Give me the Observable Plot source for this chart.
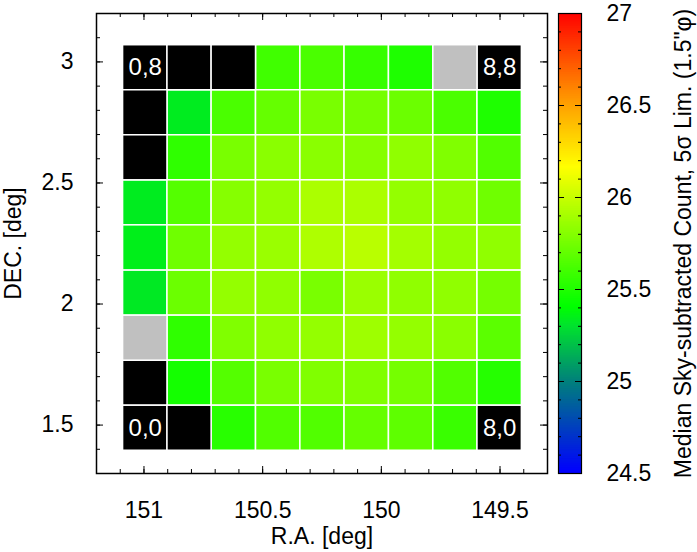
<!DOCTYPE html>
<html>
<head>
<meta charset="utf-8">
<script src="https://cdn.jsdelivr.net/npm/d3@7"></script>
<script src="https://cdn.jsdelivr.net/npm/@observablehq/plot@0.6"></script>
<style>
  body { margin: 0; background: #fff; }
  #chart { position: relative; width: 697px; height: 552px; }
  #chart svg { position: absolute; top: 0; overflow: visible; }
</style>
</head>
<body>
<div id="chart"></div>
<script>
// Tile boundaries of the 9 x 9 mosaic (degrees)
const raEdges = [151.088, 150.901, 150.715, 150.528, 150.341, 150.155, 149.968, 149.781, 149.595, 149.408];
const decEdges = [1.394, 1.580, 1.766, 1.952, 2.138, 2.325, 2.511, 2.697, 2.883, 3.069];

// Median 5-sigma limiting magnitude per tile; rows run from the top (j = 8) to the bottom (j = 0),
// columns from i = 0 (east, high R.A.) to i = 8. null = tile without coverage.
const limitRows = [
  [null,  null,  null,  25.59, 25.62, 25.56, 25.49, null,  null ],
  [null,  25.33, 25.62, 25.70, 25.76, 25.75, 25.72, 25.62, 25.49],
  [null,  25.54, 25.76, 25.81, 25.81, 25.80, 25.83, 25.78, 25.64],
  [25.33, 25.65, 25.80, 25.84, 25.91, 25.91, 25.84, 25.83, 25.73],
  [25.34, 25.73, 25.84, 25.86, 25.92, 25.95, 25.89, 25.84, 25.83],
  [25.32, 25.72, 25.84, 25.83, 25.76, 25.86, 25.83, 25.83, 25.75],
  [null,  25.54, 25.78, 25.83, 25.84, 25.87, 25.84, 25.81, 25.67],
  [null,  25.46, 25.65, 25.76, 25.78, 25.78, 25.75, 25.64, 25.51],
  [null,  null,  25.52, 25.64, 25.64, 25.70, 25.68, 25.57, null ]
];

// Tiles flagged as masked (i, j)
const maskedTiles = [[7, 8], [0, 2]];
// Tiles that carry their (i, j) index as a label
const labelledTiles = [[0, 0], [8, 0], [0, 8], [8, 8]];

// Axis ticks
const raTicks = [151, 150.5, 150, 149.5];
const raMinorTicks = [151.1, 151.0, 150.9, 150.8, 150.7, 150.6, 150.5, 150.4, 150.3, 150.2, 150.1, 150.0, 149.9, 149.8, 149.7, 149.6, 149.5, 149.4];
const decTicks = [1.5, 2, 2.5, 3];
const decMinorTicks = [1.4, 1.5, 1.6, 1.7, 1.8, 1.9, 2.0, 2.1, 2.2, 2.3, 2.4, 2.5, 2.6, 2.7, 2.8, 2.9, 3.0, 3.1];
const limitTicks = [24.5, 25, 25.5, 26, 26.5, 27];
const limitMinorTicks = [24.6, 24.7, 24.8, 24.9, 25.1, 25.2, 25.3, 25.4, 25.6, 25.7, 25.8, 25.9, 26.1, 26.2, 26.3, 26.4, 26.6, 26.7, 26.8, 26.9];

const colorbarTitle = "Median Sky-subtracted Count, 5\u03c3 Lim. (1.5\"\u03c6)";

// Colour map: blue - teal - green - yellow - orange - red
const colorScale = {
  type: "linear",
  domain: [24.5, 25.0, 25.3, 25.4, 26.16, 26.5, 27],
  range: ["#0000ff", "#00827a", "#00e42c", "#00ff00", "#ffff00", "#ffa000", "#ff0000"],
  interpolate: "rgb"
};

const fontFamily = '"Liberation Sans", Arial, Helvetica, sans-serif';
const plainNumber = d => `${d}`;
const frameH = 460;

// Flatten the mosaic into one record per tile
const tiles = [];
limitRows.forEach((row, r) => {
  const j = 8 - r;
  row.forEach((v, i) => {
    const masked = maskedTiles.some(([mi, mj]) => mi === i && mj === j);
    tiles.push({
      i, j, v,
      ra1: raEdges[i], ra2: raEdges[i + 1],
      dec1: decEdges[j], dec2: decEdges[j + 1],
      state: masked ? "masked" : v == null ? "empty" : "ok"
    });
  });
});
const labels = labelledTiles.map(([i, j]) => ({
  ra: (raEdges[i] + raEdges[i + 1]) / 2,
  dec: (decEdges[j] + decEdges[j + 1]) / 2,
  text: `${i},${j}`
}));

const rectOpts = {x1: "ra1", x2: "ra2", y1: "dec1", y2: "dec2", stroke: "white", strokeWidth: 1.5};

const main = Plot.plot({
  width: 552,
  height: 552,
  marginLeft: 96,
  marginRight: 5,
  marginTop: 13,
  marginBottom: 79,
  x: {domain: [151.2, 149.3]},
  y: {domain: [1.3, 3.2]},
  color: colorScale,
  style: {fontFamily, fontSize: "23px", color: "#000", background: "transparent"},
  marks: [
    Plot.rect(tiles.filter(d => d.state === "ok"), {...rectOpts, fill: "v"}),
    Plot.rect(tiles.filter(d => d.state === "empty"), {...rectOpts, fill: "black"}),
    Plot.rect(tiles.filter(d => d.state === "masked"), {...rectOpts, fill: "#c0c0c0"}),
    Plot.text(labels, {x: "ra", y: "dec", text: "text", fill: "white", fontSize: 24}),
    // inward ticks on all four sides
    Plot.tickX(raMinorTicks, {x: d => d, insetTop: frameH - 4, stroke: "black"}),
    Plot.tickX(raMinorTicks, {x: d => d, insetBottom: frameH - 4, stroke: "black"}),
    Plot.tickX(raTicks, {x: d => d, insetTop: frameH - 7, stroke: "black"}),
    Plot.tickX(raTicks, {x: d => d, insetBottom: frameH - 7, stroke: "black"}),
    Plot.tickY(decMinorTicks, {y: d => d, insetRight: 451 - 4, stroke: "black"}),
    Plot.tickY(decMinorTicks, {y: d => d, insetLeft: 451 - 4, stroke: "black"}),
    Plot.tickY(decTicks, {y: d => d, insetRight: 451 - 7, stroke: "black"}),
    Plot.tickY(decTicks, {y: d => d, insetLeft: 451 - 7, stroke: "black"}),
    Plot.frame({stroke: "black", strokeWidth: 1.5}),
    Plot.axisX(raTicks, {tickSize: 0, tickPadding: 28, tickFormat: plainNumber, label: "R.A. [deg]", labelAnchor: "center", labelArrow: "none", labelOffset: 70}),
    Plot.axisY(decTicks, {tickSize: 0, tickPadding: 23, tickFormat: plainNumber, label: "DEC. [deg]", labelAnchor: "center", labelArrow: "none", labelOffset: 92})
  ]
});
main.style.left = "0px";

// Colour bar
const ramp = d3.range(24.5, 27, 0.01);
const barW = 23;
const bar = Plot.plot({
  width: 145,
  height: 552,
  marginLeft: 6,
  marginRight: 116,
  marginTop: 13,
  marginBottom: 79,
  x: {domain: [0, 1], axis: null},
  y: {domain: [24.5, 27]},
  color: colorScale,
  style: {fontFamily, fontSize: "23px", color: "#000", background: "transparent"},
  marks: [
    Plot.rect(ramp, {x1: 0, x2: 1, y1: d => d, y2: d => Math.min(27, d + 0.015), fill: d => d}),
    Plot.tickY(limitMinorTicks, {y: d => d, insetRight: barW - 3, stroke: "black"}),
    Plot.tickY(limitMinorTicks, {y: d => d, insetLeft: barW - 3, stroke: "black"}),
    Plot.tickY(limitTicks, {y: d => d, insetRight: barW - 6, stroke: "black"}),
    Plot.tickY(limitTicks, {y: d => d, insetLeft: barW - 6, stroke: "black"}),
    Plot.frame({stroke: "black", strokeWidth: 1.2}),
    Plot.axisY(limitTicks, {anchor: "right", tickSize: 0, tickPadding: 25, tickFormat: plainNumber, label: null}),
    Plot.text([colorbarTitle], {text: d => d, frameAnchor: "right", textAnchor: "middle", rotate: -90, dx: 102, fontSize: 23})
  ]
});
bar.style.left = "552px";

const chart = document.getElementById("chart");
chart.append(main, bar);
</script>
</body>
</html>
